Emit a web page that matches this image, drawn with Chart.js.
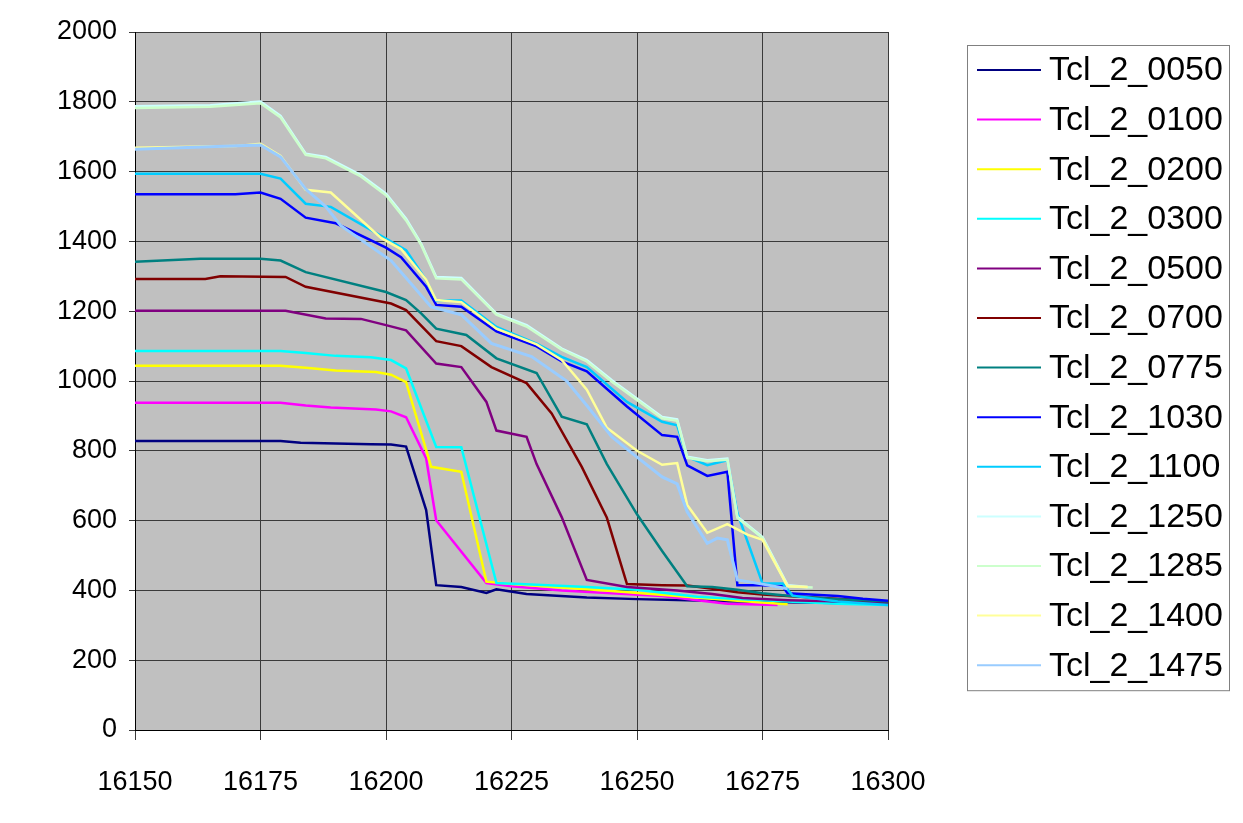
<!DOCTYPE html>
<html>
<head>
<meta charset="utf-8">
<script src="https://cdn.jsdelivr.net/npm/chart.js@4.4.1/dist/chart.umd.min.js"></script>
<style>
  html, body { margin: 0; padding: 0; background: #fff; }
  canvas { display: block; }
</style>
</head>
<body>
<canvas id="tclChart" width="1243" height="823"></canvas>
<script>
// Thermocouple traces, [position, temperature]
const tcl0050 = [[16150,828],[16179,828],[16183,823],[16190,821],[16197,819],[16201,818],[16204,812],[16208,630],[16210,415],[16215,410],[16220,393],[16222,403],[16228,390],[16240,380],[16250,375],[16260,372],[16270,368],[16280,366],[16290,364],[16300,362]];
const tcl0100 = [[16150,938],[16179,938],[16184,930],[16189,924],[16198,918],[16201,913],[16204,896],[16208,778],[16210,601],[16220,421],[16225,412],[16235,400],[16245,392],[16255,384],[16262,372],[16268,362],[16278,358]];
const tcl0200 = [[16150,1044],[16179,1044],[16184,1038],[16190,1030],[16198,1026],[16201,1018],[16204,997],[16209,754],[16215,740],[16220,425],[16225,418],[16235,408],[16245,398],[16258,384],[16270,370],[16280,360]];
const tcl0300 = [[16150,1086],[16179,1086],[16184,1080],[16190,1072],[16197,1068],[16201,1060],[16204,1036],[16210,811],[16215,810],[16222,421],[16230,416],[16240,410],[16250,402],[16262,382],[16270,375],[16280,368],[16290,362],[16300,358]];
const tcl0500 = [[16150,1201],[16180,1201],[16188,1179],[16195,1178],[16200,1160],[16204,1145],[16210,1050],[16215,1040],[16220,940],[16222,858],[16228,840],[16230,762],[16235,610],[16240,430],[16248,410],[16258,400],[16265,390],[16271,378],[16280,372],[16300,365]];
const tcl0700 = [[16150,1292],[16164,1292],[16167,1300],[16180,1298],[16184,1270],[16201,1222],[16204,1203],[16210,1114],[16215,1100],[16221,1040],[16228,994],[16233,907],[16239,754],[16244,608],[16248,418],[16255,415],[16260,414],[16265,405],[16270,395],[16275,388],[16285,380],[16300,368]];
const tcl0775 = [[16150,1342],[16163,1350],[16175,1350],[16179,1345],[16184,1312],[16200,1255],[16204,1232],[16207,1194],[16210,1150],[16216,1132],[16222,1065],[16230,1023],[16235,898],[16240,876],[16244,762],[16250,618],[16255,513],[16260,412],[16265,410],[16270,402],[16275,392],[16280,385],[16290,375],[16300,368]];
const tcl1030 = [[16150,1535],[16170,1535],[16175,1540],[16179,1522],[16184,1468],[16190,1452],[16200,1382],[16203,1355],[16208,1270],[16210,1218],[16215,1213],[16222,1142],[16230,1099],[16235,1056],[16240,1028],[16248,927],[16255,845],[16258,840],[16260,758],[16264,728],[16268,740],[16270,415],[16275,415],[16279,412],[16280,392],[16290,384],[16295,376],[16300,370]];
const tcl1100 = [[16150,1594],[16175,1594],[16179,1580],[16184,1508],[16189,1499],[16204,1375],[16208,1289],[16210,1231],[16215,1231],[16222,1155],[16230,1107],[16235,1069],[16240,1040],[16248,940],[16255,883],[16258,873],[16260,783],[16264,759],[16268,773],[16270,621],[16275,420],[16279,420],[16281,385],[16290,368],[16300,358]];
const tcl1250 = [[16150,1787],[16165,1790],[16175,1801],[16179,1760],[16184,1651],[16188,1642],[16195,1590],[16200,1537],[16204,1465],[16207,1394],[16210,1298],[16215,1295],[16222,1193],[16228,1160],[16235,1093],[16240,1060],[16245,1002],[16255,897],[16258,890],[16260,783],[16264,773],[16268,778],[16270,611],[16275,553],[16280,415],[16284,410]];
const tcl1285 = [[16150,1782],[16165,1786],[16175,1796],[16179,1755],[16184,1648],[16188,1638],[16195,1586],[16200,1532],[16204,1460],[16207,1390],[16210,1294],[16215,1291],[16222,1190],[16228,1156],[16235,1090],[16240,1056],[16245,998],[16255,893],[16258,886],[16260,780],[16264,770],[16268,774],[16270,608],[16275,550],[16280,412],[16285,408]];
const tcl1400 = [[16150,1668],[16170,1673],[16175,1680],[16179,1645],[16184,1548],[16189,1540],[16199,1410],[16203,1378],[16208,1290],[16210,1232],[16215,1226],[16222,1150],[16230,1105],[16235,1060],[16240,975],[16244,866],[16250,800],[16255,760],[16258,765],[16260,645],[16264,565],[16268,590],[16272,560],[16275,545],[16280,412],[16284,410]];
const tcl1475 = [[16150,1664],[16175,1676],[16179,1642],[16184,1550],[16188,1500],[16191,1445],[16201,1345],[16209,1212],[16215,1190],[16221,1108],[16229,1070],[16236,1000],[16240,930],[16245,840],[16248,805],[16255,725],[16258,705],[16260,625],[16264,535],[16266,550],[16268,545],[16270,430],[16275,418],[16280,405]];

const seriesNames = ['Tcl_2_0050', 'Tcl_2_0100', 'Tcl_2_0200', 'Tcl_2_0300', 'Tcl_2_0500', 'Tcl_2_0700',
    'Tcl_2_0775', 'Tcl_2_1030', 'Tcl_2_1100', 'Tcl_2_1250', 'Tcl_2_1285', 'Tcl_2_1400', 'Tcl_2_1475'];
const seriesData = [tcl0050, tcl0100, tcl0200, tcl0300, tcl0500, tcl0700,
    tcl0775, tcl1030, tcl1100, tcl1250, tcl1285, tcl1400, tcl1475];
const seriesColors = ['#000080', '#FF00FF', '#FFFF00', '#00FFFF', '#800080', '#800000',
    '#008080', '#0000FF', '#00CCFF', '#CCFFFF', '#CCFFCC', '#FFFF99', '#99CCFF'];

const xTicks = [16150, 16175, 16200, 16225, 16250, 16275, 16300];
const yTicks = [0, 200, 400, 600, 800, 1000, 1200, 1400, 1600, 1800, 2000];

const FONT = 'Arial, "Liberation Sans", sans-serif';

// grey plot background
const plotBackground = {
    id: 'plotBackground',
    beforeDraw(chart) {
        const { ctx, chartArea: a } = chart;
        ctx.save();
        ctx.fillStyle = '#C0C0C0';
        ctx.fillRect(a.left, a.top, a.right - a.left, a.bottom - a.top);
        ctx.restore();
    }
};

// boxed legend on the right
const boxLegend = {
    id: 'boxLegend',
    afterDraw(chart) {
        const ctx = chart.ctx;
        const left = 967, top = 45, width = 262, rowH = 49.6, pad = 25;
        const n = chart.data.datasets.length;
        const height = rowH * (n - 1) + pad * 2;
        ctx.save();
        ctx.fillStyle = '#fff';
        ctx.fillRect(left, top, width, height);
        ctx.strokeStyle = '#808080';
        ctx.lineWidth = 1;
        ctx.strokeRect(left + 0.5, top + 0.5, width, height);
        ctx.font = '34px ' + FONT;
        ctx.textBaseline = 'middle';
        ctx.fillStyle = '#000';
        chart.data.datasets.forEach((ds, i) => {
            const y = top + pad + i * rowH;
            ctx.strokeStyle = ds.borderColor;
            ctx.lineWidth = 2;
            ctx.beginPath();
            ctx.moveTo(left + 10, y);
            ctx.lineTo(left + 74, y);
            ctx.stroke();
            ctx.fillText(ds.label, left + 82, y + 1);
        });
        ctx.restore();
    }
};

let tclChart;

function initChart() {
    const canvas = document.getElementById('tclChart');
    if (tclChart) tclChart.destroy();
    tclChart = new Chart(canvas, {
        type: 'line',
        data: {
            datasets: seriesData.map((pts, i) => ({
                label: seriesNames[i],
                data: pts.map(p => ({ x: p[0], y: p[1] })),
                borderColor: seriesColors[i],
                backgroundColor: seriesColors[i],
                borderWidth: i === 12 ? 3 : 2.5,
                pointRadius: 0,
                tension: 0,
                fill: false,
                order: -i
            }))
        },
        options: {
            responsive: false,
            animation: false,
            layout: { padding: { left: 0, right: 355, top: 32, bottom: 0 } },
            plugins: {
                legend: { display: false },
                tooltip: { enabled: false }
            },
            scales: {
                x: {
                    type: 'linear',
                    min: 16150,
                    max: 16300,
                    afterFit(scale) { scale.height = 93; },
                    afterBuildTicks(scale) { scale.ticks = xTicks.map(v => ({ value: v })); },
                    grid: { color: '#3a3a3a', lineWidth: 1, tickLength: 10, drawTicks: true },
                    border: { color: '#000', width: 1 },
                    ticks: {
                        color: '#000',
                        padding: 26,
                        maxRotation: 0,
                        font: { family: FONT, size: 27 },
                        callback: v => String(v)
                    }
                },
                y: {
                    type: 'linear',
                    min: 0,
                    max: 2000,
                    afterFit(scale) { scale.width = 135; },
                    afterBuildTicks(scale) { scale.ticks = yTicks.map(v => ({ value: v })); },
                    grid: { color: '#3a3a3a', lineWidth: 1, tickLength: 6, drawTicks: true },
                    border: { color: '#000', width: 1 },
                    ticks: {
                        color: '#000',
                        padding: 12,
                        font: { family: FONT, size: 27 },
                        callback: v => String(v)
                    }
                }
            }
        },
        plugins: [plotBackground, boxLegend]
    });
}

window.addEventListener('DOMContentLoaded', () => {
    initChart();
});
</script>
</body>
</html>
